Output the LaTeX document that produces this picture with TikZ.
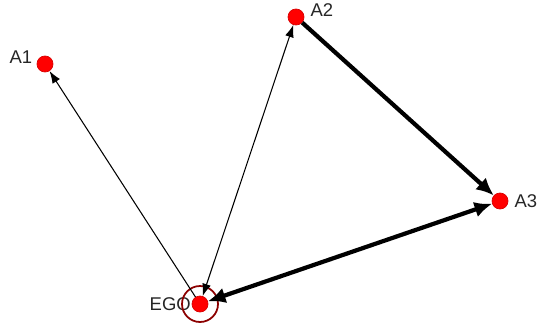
\documentclass[tikz,border=0pt]{standalone}
\usepackage{fontspec}
\setmainfont{Liberation Sans}
\usetikzlibrary{arrows.meta}

\tikzset{
  actor/.style={circle, fill=red, draw=red!85!black, inner sep=0pt, minimum size=0.32cm},
  tie/.style={line width=0.6pt, -{Latex[length=7pt,width=5pt]}},
  strongtie/.style={line width=2.4pt, -{Latex[length=10pt,width=9pt]}},
  nm/.style={font=\fontsize{10.5}{12}\selectfont, text=black!85}
}

\begin{document}
\begin{tikzpicture}[x=0.02cm, y=-0.02cm]
\useasboundingbox (0,0) rectangle (537,328);

% actors
\node[actor, label={[nm, xshift=3pt]left:EGO}] (ego) at (200,304) {};
\node[actor, label={[nm, yshift=4pt, xshift=1pt]left:A1}] (a1) at (45,64) {};
\node[actor, label={[nm, yshift=4pt]right:A2}] (a2) at (296,17) {};
\node[actor, label={[nm]right:A3}] (a3) at (500,201) {};
\draw[red!55!black, line width=1pt] (ego) circle (0.36cm);

% ties
\draw[tie] (ego) -- (a1);
\draw[tie, {Latex[length=7pt,width=5pt]}-{Latex[length=7pt,width=5pt]}] (ego) -- (a2);
\draw[strongtie] (a2) -- (a3);
\draw[strongtie, {Latex[length=10pt,width=9pt]}-{Latex[length=10pt,width=9pt]}] (ego) -- (a3);
\end{tikzpicture}
\end{document}
